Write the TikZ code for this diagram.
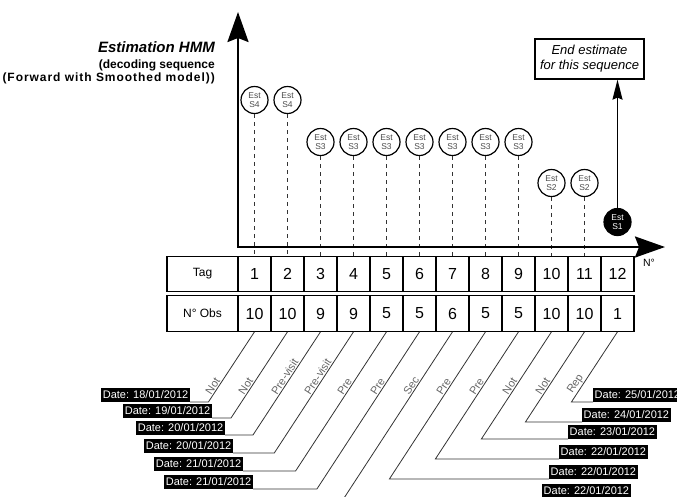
\documentclass[tikz,border=0pt]{standalone}
\usepackage{fontspec}
\setmainfont{Liberation Sans}
\usetikzlibrary{arrows.meta}

\tikzset{
  estnode/.style={circle, draw, line width=1.2pt, minimum size=27pt, inner sep=0pt,
    align=center, fill=white, text=black!70, font=\fontsize{8.5}{9}\selectfont},
  lastnode/.style={estnode, fill=black, text=white},
  cell/.style={draw, line width=1.1pt, minimum width=33pt, minimum height=35.5pt,
    inner sep=0pt, font=\fontsize{16}{18}\selectfont},
  headcell/.style={cell, minimum width=71pt, font=\fontsize{12}{14}\selectfont},
  guide/.style={line width=0.9pt, black!80, dash pattern=on 3.5pt off 4.5pt},
  axis/.style={line width=2.5pt,
    {Stealth[length=30pt,width=21pt,inset=4pt]}-{Stealth[length=30pt,width=21pt,inset=4pt]}},
  uparrow/.style={line width=1.5pt, -{Stealth[length=20pt,width=10pt,inset=2pt]}},
  endbox/.style={draw, line width=1.2pt, minimum width=109pt, minimum height=40pt,
    align=center, font=\fontsize{13}{15}\selectfont\itshape},
  leader/.style={line width=0.8pt, black!80},
  datebox/.style={fill=black, text=white, inner sep=1.5pt, minimum height=14pt,
    font=\fontsize{11}{12}\selectfont},
  tagtext/.style={sloped, anchor=south west, inner sep=1pt, text=black!60,
    font=\fontsize{11}{12}\selectfont}
}

\begin{document}
\begin{tikzpicture}[x=1pt, y=-1pt]

  \useasboundingbox (0,0) rectangle (677,496);
  \clip (0,0) rectangle (677,496);

  %% ---- title ----
  \node[anchor=base east, inner sep=0pt, font=\fontsize{15}{17}\selectfont\bfseries\itshape]
    (title) at (215,52) {Estimation HMM};
  \node[anchor=base east, inner sep=0pt, font=\fontsize{12}{14}\selectfont\bfseries]
    (subtitle) at (215,68) {(decoding sequence};
  \node[anchor=base east, inner sep=0pt, font=\fontsize{12}{14}\selectfont\bfseries]
    (model) at (215,81) {\addfontfeature{LetterSpace=8}(Forward with Smoothed model))};

  %% ---- table ----
  \node[headcell] (taghead) at (202.5,274) {Tag};
  \node[headcell] (obshead) at (202.5,313.5) {N° Obs};
  \foreach \i/\n in {1/10, 2/10, 3/9, 4/9, 5/5, 6/5, 7/6, 8/5, 9/5, 10/10, 11/10, 12/1} {
    \node[cell] (tag\i) at ({221.5+33*\i},274) {\i};
    \node[cell] (obs\i) at ({221.5+33*\i},313.5) {\n};
  }

  %% ---- estimated states ----
  \foreach \i/\s/\cy in {1/4/100, 2/4/100, 3/3/142, 4/3/142, 5/3/142, 6/3/142,
                         7/3/142, 8/3/142, 9/3/142, 10/2/183, 11/2/183} {
    \node[estnode] (est\i) at ({221.5+33*\i},\cy) {Est\\S\s};
    \draw[guide] (est\i.south) -- (tag\i.north);
  }
  \node[lastnode] (est12) at (617.5,222) {Est\\S1};

  %% axes
  \coordinate (ytip) at (238,12);
  \coordinate (xtip) at (665,247);
  \draw[axis] (ytip) |- (xtip);
  \node[font=\fontsize{10.5}{12}\selectfont] (nlabel) at (649,263) {N°};

  %% end estimate
  \node[endbox] (endest) at (589.5,59) {End estimate\\for this sequence};
  \draw[uparrow] (est12.north) -- (est12.north |- endest.south);

  %% ---- observations, left side ----
  \foreach \i/\tg/\d/\yc/\xr in {1/Not/18/402/190, 2/Not/19/418/212,
      3/Pre-visit/20/435/225, 4/Pre-visit/20/453/233, 5/Pre/21/471/243, 6/Pre/21/489/253} {
    \pgfmathsetmacro\p{66/(\yc-331)}
    \node[datebox, anchor=south east] (date\i) at (\xr,\yc) {Date: \d/01/2012};
    \coordinate (bend\i) at ({221.5+33*\i-(\yc-331)/1.54},\yc);
    \draw[leader] (obs\i.south) -- (bend\i) node[tagtext, pos=\p] {\tg}
      -- (date\i.south east);
  }

  %% ---- observations, right side ----
  \foreach \i/\tg/\d/\yc/\xl in {7/Sec/22/498/542, 8/Pre/22/479/549, 9/Pre/22/459/559,
      10/Not/23/439/568, 11/Not/24/422/582, 12/Rep/25/402/593} {
    \pgfmathsetmacro\p{66/(\yc-331)}
    \node[datebox, anchor=south west] (date\i) at (\xl,\yc) {Date: \d/01/2012};
    \coordinate (bend\i) at ({221.5+33*\i-(\yc-331)/1.54},\yc);
    \draw[leader] (obs\i.south) -- (bend\i) node[tagtext, pos=\p] {\tg}
      -- (date\i.south west);
  }

\end{tikzpicture}
\end{document}
